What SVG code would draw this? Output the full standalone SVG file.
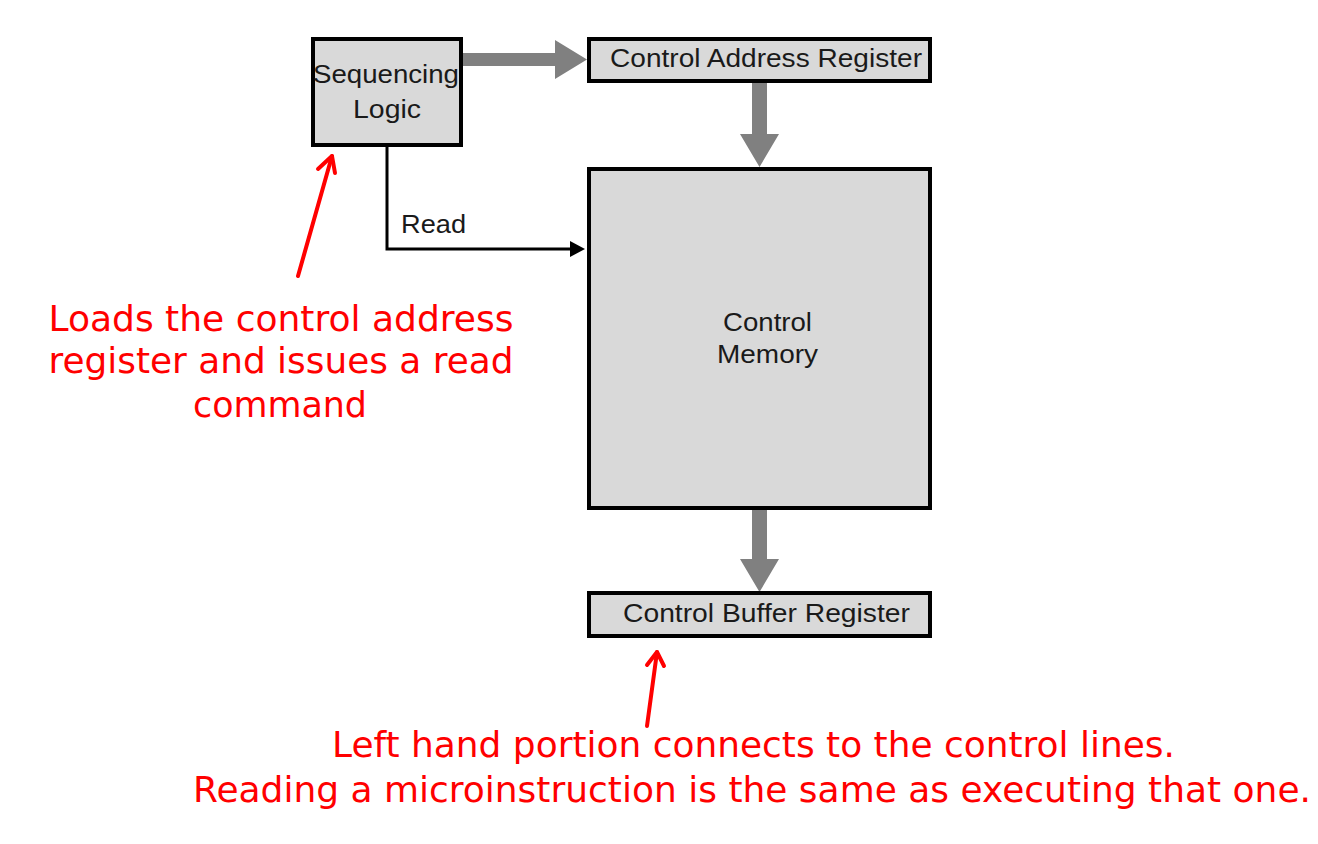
<svg xmlns="http://www.w3.org/2000/svg" width="1318" height="844" viewBox="0 0 1318 844">
<style>
.box{fill:#d9d9d9;stroke:#000;stroke-width:4}
.lbl{font-family:"Liberation Sans",Arial,sans-serif;font-size:26px;fill:#1a1a1a;text-anchor:middle}
.note{font-family:"DejaVu Sans",Verdana,sans-serif;font-size:36px;fill:#ff0000;text-anchor:middle}
.bus{fill:#808080}
.red{stroke:#ff0000;stroke-width:4;fill:none;stroke-linecap:round;stroke-linejoin:round}
</style>
<rect width="1318" height="844" fill="#fff"/>
<g id="connectors">
  <polygon class="bus" points="462,53 555,53 555,40 587,59.5 555,79 555,66 462,66"/>
  <polygon class="bus" points="752,83 767,83 767,134 779,134 759.5,167 740,134 752,134"/>
  <polygon class="bus" points="752,510 767,510 767,559 779,559 759.5,592 740,559 752,559"/>
  <polyline points="387,147 387,249 572,249" fill="none" stroke="#000" stroke-width="3"/>
  <polygon points="570,241 585,249 570,257" fill="#000"/>
  <text x="401" y="233" font-family="Liberation Sans,Arial,sans-serif" font-size="25" fill="#1a1a1a" textLength="65" lengthAdjust="spacingAndGlyphs">Read</text>
</g>
<g id="sequencing-logic">
  <rect class="box" x="313" y="39" width="148" height="106"/>
  <text class="lbl" x="386" y="83" textLength="146" lengthAdjust="spacingAndGlyphs">Sequencing</text>
  <text class="lbl" x="387" y="118" textLength="68" lengthAdjust="spacingAndGlyphs">Logic</text>
</g>
<g id="control-address-register">
  <rect class="box" x="589" y="39" width="341" height="42"/>
  <text class="lbl" x="766" y="67" textLength="312" lengthAdjust="spacingAndGlyphs">Control Address Register</text>
</g>
<g id="control-memory">
  <rect class="box" x="589" y="169" width="341" height="339"/>
  <text class="lbl" x="767.5" y="331" textLength="89" lengthAdjust="spacingAndGlyphs">Control</text>
  <text class="lbl" x="767.5" y="363" textLength="101" lengthAdjust="spacingAndGlyphs">Memory</text>
</g>
<g id="control-buffer-register">
  <rect class="box" x="589" y="593" width="341" height="43"/>
  <text class="lbl" x="766.5" y="622" textLength="287" lengthAdjust="spacingAndGlyphs">Control Buffer Register</text>
</g>
<g id="note-1">
  <line class="red" x1="298" y1="276" x2="332" y2="156"/>
  <polyline class="red" points="318,169 332,156 335,173"/>
  <text class="note" x="281" y="331" textLength="465" lengthAdjust="spacingAndGlyphs">Loads the control address</text>
  <text class="note" x="281" y="373" textLength="465" lengthAdjust="spacingAndGlyphs">register and issues a read</text>
  <text class="note" x="280" y="417" textLength="174" lengthAdjust="spacingAndGlyphs">command</text>
</g>
<g id="note-2">
  <line class="red" x1="647" y1="726" x2="657" y2="652"/>
  <polyline class="red" points="647,665 657,652 664,666"/>
  <text class="note" x="753.5" y="757" textLength="843" lengthAdjust="spacingAndGlyphs">Left hand portion connects to the control lines.</text>
  <text class="note" x="752" y="802" textLength="1118" lengthAdjust="spacingAndGlyphs">Reading a microinstruction is the same as executing that one.</text>
</g>
</svg>
